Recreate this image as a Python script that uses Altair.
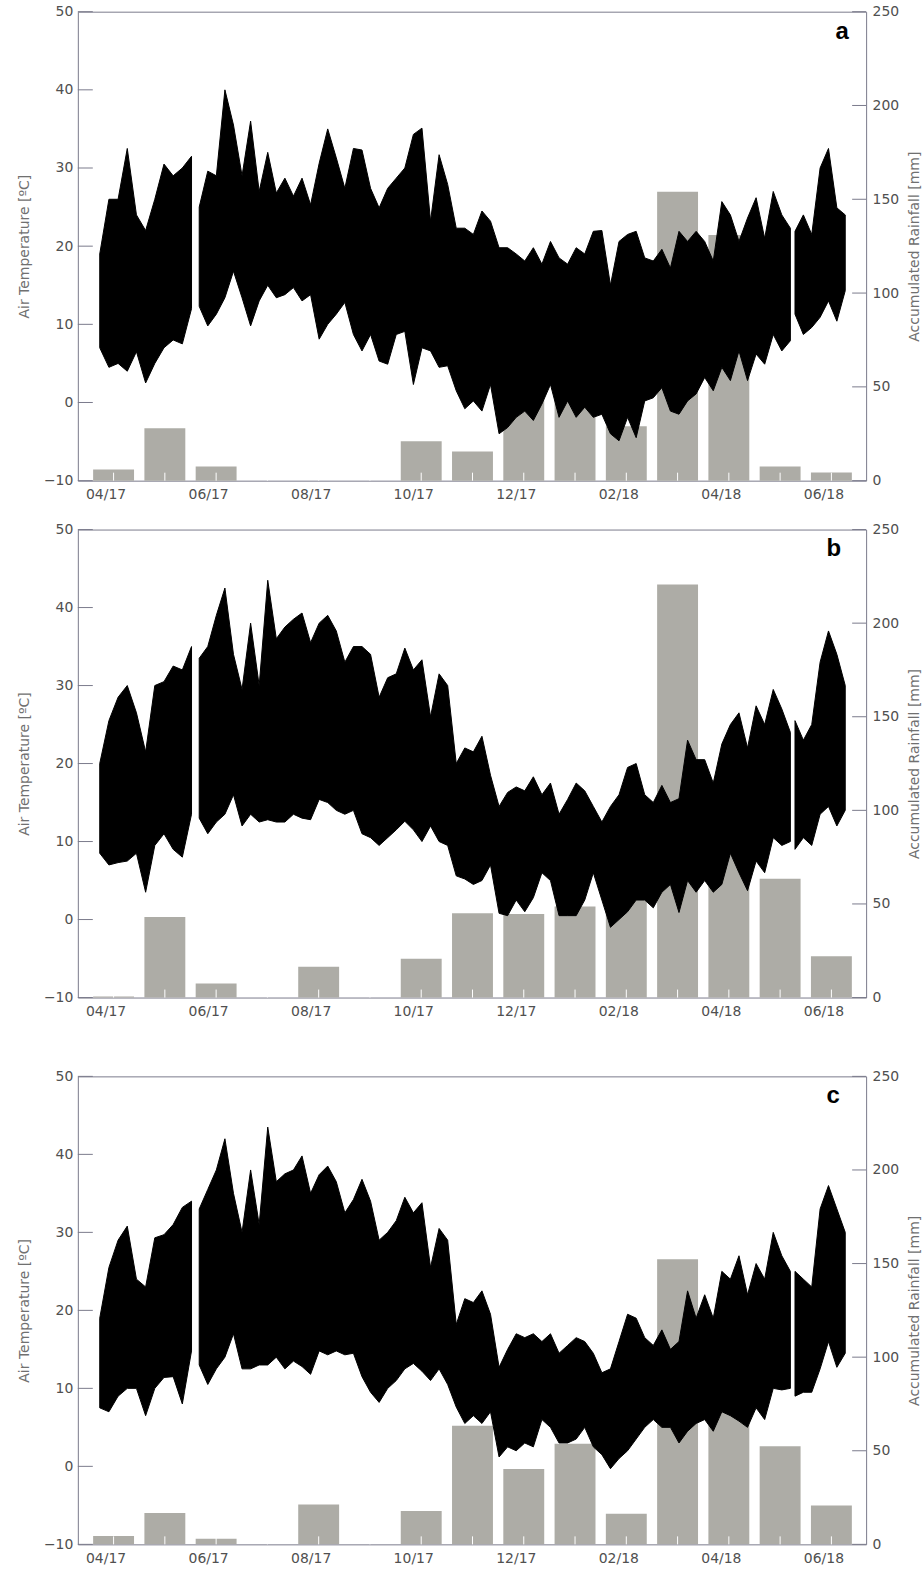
import altair as alt
import pandas as pd
import numpy as np

# ---------------- data ----------------
months = ["04/17", "05/17", "06/17", "07/17", "08/17", "09/17", "10/17", "11/17",
          "12/17", "01/18", "02/18", "03/18", "04/18", "05/18", "06/18"]
month_idx = list(range(15))
label_months = [0, 2, 4, 6, 8, 10, 12, 14]
temp_ticks = [-10, 0, 10, 20, 30, 40, 50]
rain_ticks = [0, 50, 100, 150, 200, 250]

# monthly accumulated rainfall [mm]
rain_a = [6, 28, 7.5, 0, 0, 0, 21, 15.5, 56, 64, 29, 154, 131, 7.5, 4.3]
rain_b = [0.5, 43, 7.5, 0, 16.5, 0, 20.7, 45, 44.6, 48.6, 69.6, 220.7, 91, 63.5, 22]
rain_c = [4.4, 16.7, 3, 0, 21.3, 0, 17.8, 63.4, 40.3, 53.7, 16.3, 152.3, 80.3, 52.4, 20.8]

# sampling periods of the temperature record (month index, 0 = mid April 2017)
periods = [(-0.27, 1.52, 11), (1.67, 13.2, 70), (13.29, 14.27, 7)]

# envelope of air temperature readings [degC] (upper / lower)
tmax_a = [19, 26, 26, 32.5, 24, 22, 26, 30.5, 29, 30, 31.5,
          25, 29.6, 29, 40, 35.5, 29, 36, 27, 32, 26.8, 28.7, 26.4, 28.7, 25.3, 30.6,
          35, 31.3, 27.4, 32.5, 32.3, 27.4, 24.9, 27.4, 28.7, 30,
          34.3, 35.1, 23.2, 31.7, 27.9, 22.3, 22.3, 21.5, 24.5, 23.2,
          19.8, 19.8, 19, 18.1, 19.8, 17.7, 20.6, 18.5, 17.7, 19.8,
          19, 21.9, 22, 15,
          20.6, 21.5, 21.9, 18.5, 18.1, 19.6, 17.2, 21.9, 20.6, 21.9, 20.6,
          18.1, 25.7, 24, 20.6, 23.6, 26.2, 21, 27, 24, 22.3,
          21.9, 24, 21.5, 30, 32.5, 24.9, 24]
tmin_a = [7, 4.5, 5, 4, 6.5, 2.5, 5, 7, 8, 7.5, 12,
          12.3, 9.8, 11.3, 13.4, 16.8, 13.4, 9.8, 13, 15, 13.4, 13.8, 14.7, 13, 13.8, 8.1,
          10, 11.3, 12.8, 8.7, 6.6, 8.7, 5.3, 4.9, 8.7, 9.1,
          2.3, 7, 6.6, 4.5, 4.7, 1.5, -0.8, 0.2, -1.1, 2.3,
          -4, -3.2, -1.9, -1.1, -2.3, -0.2, 2.3, -1.9, 0.2, -1.9,
          -0.6, -1.9, -1.5, -4,
          -4.9, -1.9, -4.5, 0.2, 0.6, 1.9, -1.1, -1.5, 0.2, 1.1, 3.2,
          1.5, 4.5, 2.8, 6.6, 2.8, 6.2, 4.9, 8.7, 6.6, 7.9,
          11.3, 8.7, 9.6, 10.9, 13, 10.4, 14.3]

tmax_b = [20, 25.5, 28.5, 30, 26.5, 21.5, 30, 30.5, 32.5, 32, 35,
          33.5, 35, 39, 42.5, 34, 29.5, 38, 30, 43.5, 36,
          37.5, 38.5, 39.3, 35.5, 38, 39, 37, 33, 35, 35,
          34, 28.5, 31, 31.5, 34.8, 32, 33.3, 26, 31.5, 30,
          20, 22, 21.5,
          23.5, 18.5, 14.5, 16.3, 17, 16.5, 18.3, 16, 17.5, 13.5,
          15.4, 17.5, 16.5, 14.5, 12.5, 14.5, 16, 19.5, 20, 16,
          15, 17.2, 15, 15.5, 23, 20.5, 20.5, 17.5, 22.5, 25,
          26.5, 22, 27.4, 25, 29.5, 27, 24,
          25.5, 23, 25, 33, 37, 34, 30]
tmin_b = [8.5, 7, 7.3, 7.5, 8.5, 3.5, 9.5, 11, 9, 8, 13.5,
          13, 11, 12.5, 13.5, 16, 12, 13.5, 12.5, 12.8, 12.5,
          12.5, 13.5, 13, 12.8, 15.4, 15, 14, 13.5, 14, 11,
          10.5, 9.5, 10.5, 11.5, 12.6, 11.5, 10, 12, 10, 9.5,
          5.6, 5.2, 4.5,
          5, 7, 0.8, 0.5, 2.5, 1, 2.8, 6, 5, 0.5,
          0.5, 0.5, 2.5, 6, 2.5, -1, 0, 1, 2.5, 2.5,
          1.5, 3.5, 4.5, 0.9, 5, 3.5, 5, 3.5, 4.5, 8.5,
          6, 3.7, 7.5, 6, 10.5, 9.5, 10,
          9, 10.5, 9.5, 13.5, 14.5, 12, 14]

tmax_c = [19, 25.5, 29, 30.8, 24, 23, 29.3, 29.7, 31, 33.2, 34,
          33, 35.5, 38, 42, 35, 30, 38, 31, 43.5, 36.5,
          37.5, 38, 39.8, 35, 37.4, 38.5, 36.5, 32.5, 34.2, 36.8,
          34, 29, 30, 31.5, 34.5, 32.5, 33.8, 25.5, 30.5, 29,
          18.2, 21.5, 21,
          22.5, 19.5, 12.7, 15, 17, 16.5, 17, 16, 17, 14.5,
          15.5, 16.5, 16, 14.5, 12, 12.5, 16, 19.5, 19, 16.5,
          15.5, 17.5, 15, 16, 22.5, 19, 22, 19, 25, 24,
          27, 22, 26, 24, 30, 27, 25,
          25, 24, 23, 33, 36, 33, 30]
tmin_c = [7.5, 7, 9, 10, 10, 6.5, 10, 11.4, 11.5, 8, 14.8,
          13, 10.5, 12.5, 14, 17, 12.5, 12.5, 13, 13, 14,
          12.5, 13.5, 12.8, 11.8, 14.8, 14.3, 14.8, 14.3, 14.5, 11.5,
          9.5, 8.2, 10, 11, 12.5, 13.2, 12.2, 11, 12.5, 10.5,
          7.6, 5.5, 6.5,
          5.5, 7, 1.2, 2.5, 2, 3, 2.5, 6, 5, 3,
          3, 3.5, 5, 2.5, 1.5, -0.3, 1, 2, 3.5, 5,
          6, 5, 5, 3, 4.5, 5.5, 6, 4.5, 7, 6.5,
          5.8, 5, 7.5, 6, 10, 9.8, 10,
          9, 9.5, 9.5, 12.5, 16, 12.7, 14.5]

# ---------------- styling ----------------
FRAME = "#7a7a8c"
BAR = "#adaca6"
LABEL = "#505050"
TITLE = "#707070"
FONT = "DejaVu Sans"
W = 790

months_js = "[" + ",".join("'%s'" % m for m in months) + "]"
xscale = alt.Scale(domain=[-0.6, 14.58], nice=False, zero=False)
tscale = alt.Scale(domain=[-10, 50], nice=False, zero=False)
rscale = alt.Scale(domain=[0, 250], nice=False)


def temp_frame(tmax, tmin):
    times, seg = [], []
    for s, (a, b, n) in enumerate(periods):
        t = np.linspace(a, b, n)
        times.extend(t.tolist())
        seg.extend([s] * n)
    assert len(times) == len(tmax) == len(tmin)
    return pd.DataFrame({"m": times, "tmax": tmax, "tmin": tmin, "seg": seg})


def panel(letter, rain, tmax, tmin, h, letter_x, extra_bottom=0):
    rain_df = pd.DataFrame({"m": month_idx, "rain": rain})
    tdf = temp_frame(tmax, tmin)

    x_axis = alt.Axis(values=label_months, labelExpr=months_js + "[datum.value]",
                      ticks=False, domain=False, grid=False, labelPadding=7,
                      labelOffset=-8, title=None)

    bars = alt.Chart(rain_df).mark_bar(color=BAR, width=41).encode(
        x=alt.X("m:Q", scale=xscale, axis=x_axis),
        y=alt.Y("rain:Q", scale=rscale,
                axis=alt.Axis(orient="right", values=rain_ticks, title="Accumulated Rainfall [mm]",
                              ticks=False, domain=False, grid=False, labelPadding=6,
                              titleAngle=270, titleBaseline="top", titlePadding=9)),
    )
    xticks = alt.Chart(pd.DataFrame({"m": month_idx})).mark_rule(color="white", strokeWidth=1).encode(
        x=alt.X("m:Q", scale=xscale), y=alt.value(h), y2=alt.value(h - 8)
    )
    temp = alt.Chart(tdf).mark_area(color="black", stroke="black", strokeWidth=1.0,
                                    strokeJoin="miter").encode(
        x=alt.X("m:Q", scale=xscale),
        y=alt.Y("tmax:Q", scale=tscale,
                axis=alt.Axis(orient="left", values=temp_ticks, title="Air Temperature [ºC]",
                              ticks=False, domain=False, grid=False, labelPadding=5,
                              titlePadding=12)),
        y2="tmin:Q",
        detail="seg:N",
    )
    lticks = alt.Chart(pd.DataFrame({"v": temp_ticks})).mark_rule(color=FRAME).encode(
        y=alt.Y("v:Q", scale=tscale, axis=None), x=alt.value(0), x2=alt.value(15)
    )
    rticks = alt.Chart(pd.DataFrame({"v": rain_ticks})).mark_rule(color=FRAME).encode(
        y=alt.Y("v:Q", scale=rscale, axis=None), x=alt.value(W - 14), x2=alt.value(W)
    )
    txt = alt.Chart(pd.DataFrame({"t": [letter]})).mark_text(
        font="Liberation Sans", fontSize=24, fontWeight="bold", color="black",
        align="center", baseline="alphabetic"
    ).encode(text="t:N", x=alt.value(letter_x), y=alt.value(27))

    layers = [bars, xticks, temp, lticks, rticks, txt]
    if extra_bottom:
        spacer = alt.Chart(pd.DataFrame({"t": [letter]})).mark_rule(
            strokeOpacity=0, color="white"
        ).encode(x=alt.value(1), y=alt.value(h), y2=alt.value(h + extra_bottom))
        layers.append(spacer)

    return alt.layer(*layers).resolve_scale(y="independent").properties(width=W, height=h)


SP = 19
pa = panel("a", rain_a, tmax_a, tmin_a, 470, 766)
pb = panel("b", rain_b, tmax_b, tmin_b, 469, 757.5, extra_bottom=51)
pc = panel("c", rain_c, tmax_c, tmin_c, 469, 757)

chart = alt.vconcat(pa, pb, pc, spacing=SP).properties(
    padding={"left": 16, "top": 2, "right": 0, "bottom": 2}
).configure_view(stroke=FRAME, strokeWidth=1).configure_axis(
    labelFont=FONT, labelFontSize=14, labelColor=LABEL,
    titleFont=FONT, titleFontSize=14, titleColor=TITLE, titleFontWeight="normal"
)

chart.save("out.html", embed_options={"renderer": "svg", "actions": False})
